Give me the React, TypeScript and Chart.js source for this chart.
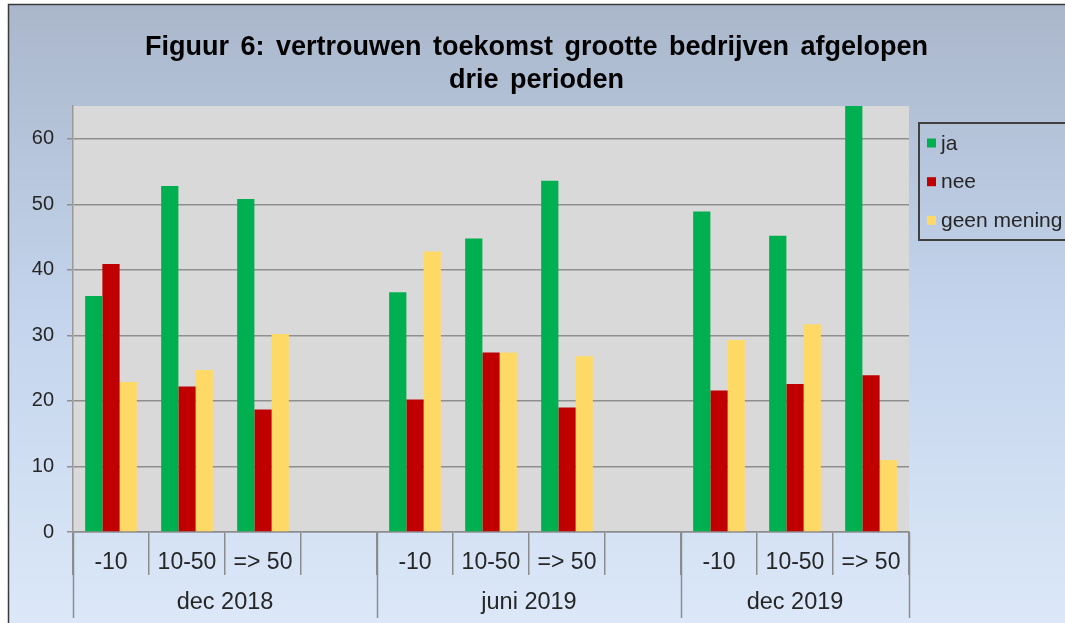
import React, { useEffect, useRef } from "react";
import { Chart, registerables } from "chart.js";

Chart.register(...registerables);

const titleLines = ["Figuur 6: vertrouwen toekomst grootte bedrijven afgelopen", "drie perioden"];
const periods = ["dec 2018", "juni 2019", "dec 2019"];
const sizeClasses = ["-10", "10-50", "=> 50"];
const seriesNames = ["ja", "nee", "geen mening"];
const seriesColors = ["#00b050", "#c00000", "#ffd966"];
// values per period, per size class
const jaValues = [36.0, 52.8, 50.8, 36.6, 44.8, 53.6, 48.9, 45.2, 66.0];
const neeValues = [40.9, 22.2, 18.7, 20.2, 27.4, 19.0, 21.6, 22.6, 23.9];
const geenValues = [22.9, 24.7, 30.2, 42.8, 27.4, 26.8, 29.3, 31.7, 11.0];
const yTicks = [0, 10, 20, 30, 40, 50, 60];
const yMax = 65;

const FONT = "'Liberation Sans', Arial, sans-serif";

// build category labels with an empty spacer slot after each period except the last
const labels: string[] = [];
const periodSpans: { start: number; end: number; label: string }[] = [];
periods.forEach((p, pi) => {
  const start = labels.length;
  sizeClasses.forEach((s) => labels.push(s));
  if (pi < periods.length - 1) labels.push("");
  periodSpans.push({ start, end: labels.length - 1, label: p });
});

function spread(values: number[]): (number | null)[] {
  const out: (number | null)[] = [];
  let k = 0;
  labels.forEach((l) => {
    if (l === "") out.push(null);
    else out.push(values[k++]);
  });
  return out;
}

const seriesValues = [jaValues, neeValues, geenValues];

const decorPlugin = {
  id: "decor",
  beforeDraw(chart: any) {
    const { ctx, width, height, chartArea } = chart;
    ctx.save();
    ctx.fillStyle = "#ffffff";
    ctx.fillRect(0, 0, width, height);
    const g = ctx.createLinearGradient(0, 5, 0, height);
    g.addColorStop(0, "#aab7cb");
    g.addColorStop(0.5, "#c3d4ec");
    g.addColorStop(1, "#dce8f8");
    ctx.fillStyle = g;
    ctx.fillRect(8, 5, width - 8, height - 5);
    ctx.strokeStyle = "#3a3a3a";
    ctx.lineWidth = 1.5;
    ctx.beginPath();
    ctx.moveTo(8.5, height);
    ctx.lineTo(8.5, 4.5);
    ctx.lineTo(width, 4.5);
    ctx.stroke();
    ctx.fillStyle = "#d9d9d9";
    ctx.fillRect(chartArea.left, chartArea.top, chartArea.right - chartArea.left, chartArea.bottom - chartArea.top);
    ctx.restore();
  },
  afterDraw(chart: any) {
    const { ctx, width, chartArea } = chart;
    const x = chart.scales.x;
    ctx.save();
    // title
    ctx.fillStyle = "#000000";
    ctx.font = `bold 27px ${FONT}`;
    try {
      (ctx as any).wordSpacing = "4px";
    } catch (e) {}
    ctx.textAlign = "center";
    ctx.textBaseline = "middle";
    const cx = (8 + width) / 2;
    titleLines.forEach((t, i) => ctx.fillText(t, cx, 48 + i * 33));
    try {
      (ctx as any).wordSpacing = "0px";
    } catch (e) {}

    // period separators and labels
    const half = (x.getPixelForValue(1) - x.getPixelForValue(0)) / 2;
    ctx.strokeStyle = "#8c8c8c";
    ctx.lineWidth = 1.5;
    const bounds: number[] = [];
    periodSpans.forEach((s, i) => {
      if (i === 0) bounds.push(x.getPixelForValue(s.start) - half);
      bounds.push(x.getPixelForValue(s.end) + half);
    });
    bounds.forEach((b) => {
      ctx.beginPath();
      ctx.moveTo(Math.round(b) + 0.5, chartArea.bottom);
      ctx.lineTo(Math.round(b) + 0.5, chartArea.bottom + 86);
      ctx.stroke();
    });
    ctx.fillStyle = "#262626";
    ctx.font = `23.5px ${FONT}`;
    periodSpans.forEach((s, i) => {
      const c = (bounds[i] + bounds[i + 1]) / 2;
      ctx.fillText(s.label, c, chartArea.bottom + 71);
    });

    // legend
    const lx = chartArea.right + 9;
    const ly = chartArea.top + 16;
    ctx.strokeStyle = "#404040";
    ctx.lineWidth = 2;
    ctx.strokeRect(lx + 1, ly + 1, width - lx + 10, 117);
    ctx.textAlign = "left";
    ctx.font = `21px ${FONT}`;
    seriesNames.forEach((n, i) => {
      const yy = ly + 21 + i * 38.7;
      ctx.fillStyle = seriesColors[i];
      ctx.fillRect(lx + 9, yy - 4.5, 9, 9);
      ctx.fillStyle = "#262626";
      ctx.fillText(n, lx + 23, yy + 1);
    });
    ctx.restore();
  },
};

export default function App() {
  const ref = useRef<HTMLCanvasElement | null>(null);
  useEffect(() => {
    if (!ref.current) return;
    const chart = new Chart(ref.current, {
      type: "bar",
      data: {
        labels,
        datasets: seriesNames.map((n, i) => ({
          label: n,
          data: spread(seriesValues[i]),
          backgroundColor: seriesColors[i],
          borderWidth: 0,
          categoryPercentage: 0.68,
          barPercentage: 1.0,
        })),
      },
      options: {
        responsive: false,
        animation: false,
        layout: { padding: { left: 8, right: 156, top: 106, bottom: 0 } },
        plugins: {
          legend: { display: false },
          title: { display: false },
          tooltip: { enabled: false },
        },
        scales: {
          x: {
            offset: true,
            grid: {
              display: true,
              offset: true,
              drawOnChartArea: false,
              drawTicks: true,
              tickLength: 43,
              color: "#8c8c8c",
              lineWidth: 1.5,
            },
            border: { display: true, color: "#8c8c8c", width: 1.5 },
            ticks: {
              autoSkip: false,
              maxRotation: 0,
              padding: -26,
              color: "#262626",
              font: { family: FONT, size: 23 },
            },
            afterFit(scale: any) {
              scale.height = 91;
            },
          },
          y: {
            min: 0,
            max: yMax,
            afterBuildTicks(scale: any) {
              scale.ticks = yTicks.map((v) => ({ value: v }));
            },
            grid: {
              color: "#8f8f8f",
              lineWidth: 1.5,
              tickLength: 6,
            },
            border: { display: true, color: "#9a9a9a", width: 1.5 },
            ticks: {
              padding: 13,
              color: "#262626",
              font: { family: FONT, size: 20 },
            },
            afterFit(scale: any) {
              scale.width = 65;
            },
          },
        },
      },
      plugins: [decorPlugin],
    });
    return () => chart.destroy();
  }, []);
  return (
    <div style={{ position: "absolute", left: 0, top: 0, width: 1065, height: 623 }}>
      <canvas ref={ref} width={1065} height={623} />
    </div>
  );
}
